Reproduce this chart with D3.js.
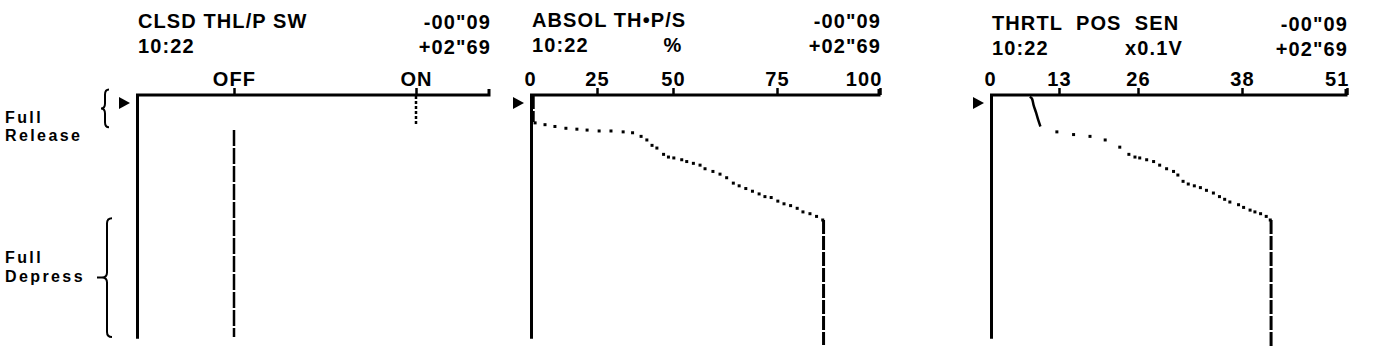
<!DOCTYPE html>
<html>
<head>
<meta charset="utf-8">
<script src="https://cdn.jsdelivr.net/npm/d3@7"></script>
<style>
  body { margin: 0; background: #fff; }
  svg text { font-family: "Liberation Sans", Arial, sans-serif; font-weight: bold; font-size: 20px; letter-spacing: 1.1px; fill: #000; }
</style>
</head>
<body>
<div id="visualization"></div>
<script>
// time runs down the page, seconds around the trigger
const timeDomain = [-0.09, 2.69];
const timeLabels = ["-00\"09", "+02\"69"];
const clock = "10:22";
const axisEndTime = 2.62;

// CLSD THL/P SW: switch state runs [tStart, tEnd, state]
const switchStates = ["OFF", "ON"];
const switchRuns = [
  [-0.08, 0.24, "ON"],
  [0.30, 2.60, "OFF"]
];

// ABSOL TH-P/S in %
const absTicks = [0, 25, 50, 75, 100];
const absHolds = [[-0.09, 0.21, 1.2], [1.30, 2.69, 86.3]];  // [tStart, tEnd, value]
const absDots = [
  [0.22, 1.9], [0.24, 5.6], [0.26, 9.3], [0.28, 13.4], [0.29, 17.5], [0.30, 21.3],
  [0.31, 25.7], [0.31, 29.6], [0.32, 33.6], [0.33, 36.7], [0.37, 39.5], [0.41, 41.4],
  [0.47, 43.1], [0.50, 44.7], [0.57, 46.9], [0.60, 48.5], [0.61, 50.2], [0.63, 52.1],
  [0.65, 53.3], [0.67, 54.9], [0.69, 56.5], [0.73, 57.7], [0.76, 59.6], [0.79, 61.3],
  [0.83, 62.9], [0.89, 64.5], [0.92, 65.9], [0.95, 67.5], [0.98, 69.1], [1.01, 70.7],
  [1.04, 72.1], [1.05, 73.6], [1.09, 75.2], [1.12, 76.7], [1.14, 78.3], [1.17, 79.9],
  [1.21, 81.3], [1.23, 83.0], [1.26, 84.6], [1.30, 86.1]
];

// THRTL POS SEN in x0.1V
const tpsTicks = [0, 13, 26, 38, 51];
const tpsSweep = [[-0.07, 7.5], [-0.05, 7.9], [0.02, 8.2], [0.11, 8.7], [0.19, 9.1], [0.26, 9.5]];
const tpsHolds = [[1.30, 2.72, 41.6]];
const tpsDots = [
  [0.32, 12.6], [0.35, 15.4], [0.37, 18.1], [0.41, 20.6], [0.49, 23.0], [0.57, 24.5],
  [0.60, 25.5], [0.61, 26.2], [0.63, 27.0], [0.65, 27.8], [0.69, 28.5], [0.73, 29.3],
  [0.76, 30.1], [0.80, 30.6], [0.87, 31.2], [0.90, 31.8], [0.92, 32.5], [0.94, 33.2],
  [0.97, 33.9], [1.00, 34.7], [1.04, 35.4], [1.07, 36.0], [1.10, 36.6], [1.13, 37.6],
  [1.16, 38.2], [1.19, 39.0], [1.21, 39.6], [1.23, 40.3], [1.26, 41.0], [1.30, 41.5]
];

// pedal position brackets on the left: [line1, line2, tStart, tEnd]
const braces = [
  ["Full", "Release", -0.15, 0.27],
  ["Full", "Depress", 1.28, 2.60]
];

const svg = d3.select("#visualization").append("svg")
  .attr("width", 1376)
  .attr("height", 354);

const y = d3.scaleLinear().domain(timeDomain).range([95, 345]);
const y0 = y(timeDomain[0]);

function panel(opt) {
  const g = svg.append("g").attr("transform", `translate(${opt.left},0)`);
  const w = opt.width;

  // header lines
  g.append("text").attr("x", 2).attr("y", 28 + opt.dy).style("white-space", "pre").text(opt.title);
  g.append("text").attr("x", 2).attr("y", 53 + opt.dy).text(clock);
  g.append("text").attr("x", w + 1).attr("y", 29 + opt.dy).attr("text-anchor", "end").text(timeLabels[0]);
  g.append("text").attr("x", w + 1).attr("y", 54 + opt.dy).attr("text-anchor", "end").text(timeLabels[1]);
  if (opt.unit) {
    g.append("text").attr("x", opt.unitX).attr("y", 53 + opt.dy).attr("text-anchor", "middle").text(opt.unit);
  }

  // value axis along the top
  const ax = g.append("g")
    .attr("transform", `translate(0,${y0})`)
    .call(d3.axisTop(opt.x).tickValues(opt.ticks).tickFormat(opt.format)
      .tickSize(7).tickPadding(2).tickSizeOuter(0));
  ax.select(".domain").remove();
  ax.selectAll(".tick line").attr("stroke", "#000").attr("stroke-width", 2.5);
  if (opt.edgeTicks) {
    ax.selectAll(".tick").filter(d => d === opt.ticks[0]).select("line").remove();
    ax.selectAll(".tick").filter(d => d === opt.ticks[opt.ticks.length - 1])
      .select("text").attr("text-anchor", "end").attr("x", 2);
  }

  // frame: time axis down the left, value axis across, end tick up
  g.append("path")
    .attr("d", `M1.5,${y(axisEndTime)}V${y0}H${w - 1}V${y0 - 6}`)
    .attr("fill", "none")
    .attr("stroke", "#000")
    .attr("stroke-width", 3);

  // cursor marker at t = 0
  const c = y(0);
  g.append("path")
    .attr("d", `M-6,${c}L-17,${c - 6}L-17,${c + 6}Z`)
    .attr("fill", "#000");

  return g;
}

function holds(g, x, data, dash) {
  g.selectAll(null).data(data).enter().append("line")
    .attr("x1", d => x(d[2])).attr("x2", d => x(d[2]))
    .attr("y1", d => y(d[0])).attr("y2", d => y(d[1]))
    .attr("stroke", "#000")
    .attr("stroke-width", 3)
    .attr("stroke-dasharray", dash);
}

function dots(g, x, data) {
  g.selectAll(null).data(data).enter().append("rect")
    .attr("x", d => x(d[1]) - 1.5)
    .attr("y", d => y(d[0]) - 1.5)
    .attr("width", 3)
    .attr("height", 3)
    .attr("fill", "#000");
}

// panel 1 - closed throttle switch
const x1 = d3.scaleLinear().domain([0, 1]).range([98, 280]);
const g1 = panel({
  left: 136, width: 354, dy: 0, title: "CLSD THL/P SW",
  x: x1, ticks: [0, 1], format: d => switchStates[d], edgeTicks: false
});
g1.selectAll(null).data(switchRuns).enter().append("line")
  .attr("x1", d => x1(switchStates.indexOf(d[2])))
  .attr("x2", d => x1(switchStates.indexOf(d[2])))
  .attr("y1", d => y(d[0]))
  .attr("y2", d => y(d[1]))
  .attr("stroke", "#000")
  .attr("stroke-width", 2.5)
  .attr("stroke-dasharray", d => d[2] === "ON" ? "3,2" : "16,2");

// panel 2 - absolute throttle position
const x2 = d3.scaleLinear().domain(absTicks).range([0, 67, 143, 247, 350]);
const g2 = panel({
  left: 530, width: 350, dy: -1, title: "ABSOL TH\u2022P/S", unit: "%", unitX: 143,
  x: x2, ticks: absTicks, format: d3.format("d"), edgeTicks: true
});
holds(g2, x2, absHolds, "14,2");
dots(g2, x2, absDots);

// panel 3 - throttle position sensor voltage
const x3 = d3.scaleLinear().domain(tpsTicks).range([0, 69, 148, 252, 357]);
const g3 = panel({
  left: 990, width: 357, dy: 2, title: "THRTL  POS  SEN", unit: "x0.1V", unitX: 164,
  x: x3, ticks: tpsTicks, format: d3.format("d"), edgeTicks: true
});
g3.append("path")
  .datum(tpsSweep)
  .attr("fill", "none")
  .attr("stroke", "#000")
  .attr("stroke-width", 2.5)
  .attr("d", d3.line().x(d => x3(d[1])).y(d => y(d[0])).curve(d3.curveMonotoneY));
holds(g3, x3, tpsHolds, "14,2");
dots(g3, x3, tpsDots);

// pedal brackets
const bx = [109, 112];
const lab = [[123, 18], [263, 19]];
braces.forEach((b, i) => {
  const top = y(b[2]), bot = y(b[3]), mid = (top + bot) / 2;
  const x = bx[i], w = 8 + 2 * i, r = 5;
  svg.append("path")
    .attr("d", `M${x},${top}Q${x - w / 2},${top} ${x - w / 2},${top + r}V${mid - r}` +
      `Q${x - w / 2},${mid} ${x - w},${mid}Q${x - w / 2},${mid} ${x - w / 2},${mid + r}` +
      `V${bot - r}Q${x - w / 2},${bot} ${x},${bot}` + (i === 1 ? `M${x - w},${mid}h-5` : ""))
    .attr("fill", "none")
    .attr("stroke", "#000")
    .attr("stroke-width", 2);
  const t = svg.append("text").attr("y", lab[i][0]).style("font-size", "16px").style("letter-spacing", "2.4px");
  t.append("tspan").attr("x", 5).text(b[0]);
  t.append("tspan").attr("x", 5).attr("dy", lab[i][1]).text(b[1]);
});
</script>
</body>
</html>
